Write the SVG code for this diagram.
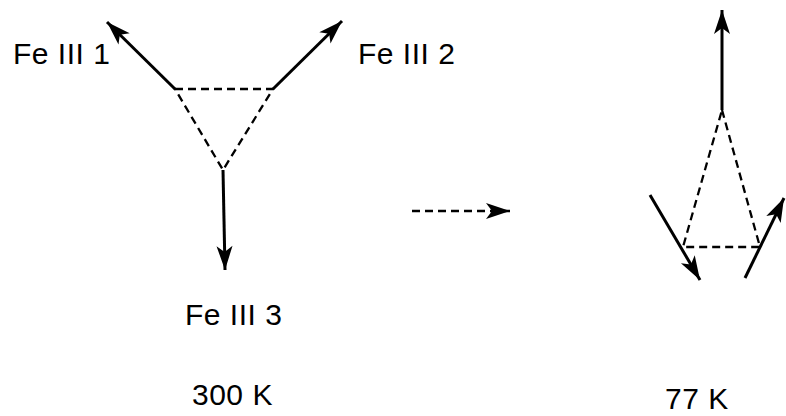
<svg xmlns="http://www.w3.org/2000/svg" width="786" height="416" viewBox="0 0 786 416">
<defs>
<marker id="ah" markerUnits="userSpaceOnUse" markerWidth="30" markerHeight="20" refX="24" refY="8" orient="auto" overflow="visible">
<path d="M0,0 L24,8 L0,16 L6,8 Z" fill="#000"/>
</marker>
</defs>
<style>
.t{font-family:"Liberation Sans",Arial,sans-serif;font-size:30px;letter-spacing:0.5px;fill:#000}
.s{stroke:#000;stroke-width:3;fill:none}
.d{stroke:#000;stroke-width:2.3;fill:none;stroke-dasharray:8,5}
</style>
<rect width="786" height="416" fill="#fff"/>
<g id="left-triangle">
<path class="d" d="M175,89 L273,89 L223,170 Z"/>
</g>
<g id="connectors">
<line class="s" x1="175" y1="89" x2="107" y2="22" marker-end="url(#ah)"/>
<line class="s" x1="273" y1="89" x2="342" y2="21" marker-end="url(#ah)"/>
<line class="s" x1="223" y1="170" x2="225" y2="270" marker-end="url(#ah)"/>
<line class="d" x1="412" y1="211" x2="510" y2="211" marker-end="url(#ah)"/>
<line class="s" x1="722" y1="110" x2="722" y2="10" marker-end="url(#ah)"/>
<line class="s" x1="650" y1="195" x2="700" y2="280" marker-end="url(#ah)"/>
<line class="s" x1="745" y1="278" x2="784" y2="198" marker-end="url(#ah)"/>
</g>
<g id="right-triangle">
<path class="d" d="M722,110 L760,247 L683,247 Z"/>
</g>
<g id="labels">
<text class="t" x="13" y="64">Fe III 1</text>
<text class="t" x="358" y="64">Fe III 2</text>
<text class="t" x="185" y="325">Fe III 3</text>
<text class="t" x="192" y="405">300 K</text>
<text class="t" x="665" y="409">77 K</text>
</g>
</svg>
